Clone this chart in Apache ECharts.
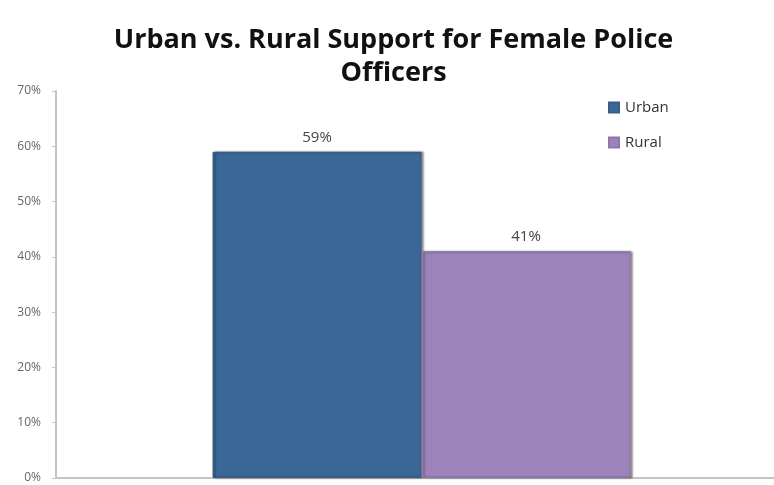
<!DOCTYPE html>
<html>
<head>
<meta charset="utf-8">
<script src="https://cdn.jsdelivr.net/npm/echarts@6/dist/echarts.min.js"></script>
<style>
  html, body { margin: 0; padding: 0; background: #fff; overflow: hidden; }
  #chart { width: 787px; height: 485px; }
</style>
</head>
<body>
<div id="chart"></div>
<script>
// Share of respondents supporting female police officers
const categories = ['Support'];
const urbanValues = [59];
const ruralValues = [41];
const yTicks = [0, 10, 20, 30, 40, 50, 60, 70];

const chart = echarts.init(document.getElementById('chart'));

const barShadow = {
  shadowColor: 'rgba(0,0,0,0.45)',
  shadowBlur: 2,
  shadowOffsetX: 2,
  shadowOffsetY: 0
};

const valueLabel = {
  show: true,
  position: 'top',
  distance: 7,
  formatter: p => p.value + '%',
  fontFamily: 'Open Sans',
  fontSize: 15,
  color: '#444'
};

chart.setOption({
  animation: false,
  backgroundColor: '#ffffff',
  title: {
    text: 'Urban vs. Rural Support for Female Police\nOfficers',
    left: 'center',
    top: 19,
    textStyle: {
      fontFamily: 'Open Sans',
      fontWeight: 'bold',
      fontSize: 27,
      lineHeight: 33,
      color: '#111'
    }
  },
  legend: {
    orient: 'vertical',
    left: 603,
    top: 95,
    itemWidth: 10,
    itemHeight: 10,
    itemGap: 20,
    icon: 'rect',
    textStyle: { fontFamily: 'Open Sans', fontSize: 15, color: '#333', padding: [0, 0, 0, 1] },
    data: ['Urban', 'Rural']
  },
  grid: { left: 56, right: 0, top: 91, bottom: 7, containLabel: false },
  xAxis: {
    type: 'category',
    data: categories,
    axisLine: { lineStyle: { color: '#c4c4c4', width: 2 } },
    axisTick: { show: false },
    axisLabel: { show: false }
  },
  yAxis: {
    type: 'value',
    min: yTicks[0],
    max: yTicks[yTicks.length - 1],
    interval: 10,
    splitLine: { show: false },
    axisLine: { show: true, lineStyle: { color: '#c4c4c4', width: 2 } },
    axisTick: { show: true, length: 4, lineStyle: { color: '#c4c4c4' } },
    axisLabel: {
      formatter: v => v + '%',
      fontFamily: 'Open Sans',
      fontSize: 12,
      color: '#666',
      margin: 15
    }
  },
  series: [
    {
      name: 'Urban',
      type: 'bar',
      data: urbanValues,
      barWidth: 209,
      barGap: '0%',
      itemStyle: Object.assign({ color: '#3b6796', borderColor: '#355d88', borderWidth: 1 }, barShadow),
      label: valueLabel
    },
    {
      name: 'Rural',
      type: 'bar',
      data: ruralValues,
      barWidth: 209,
      barGap: '0%',
      itemStyle: Object.assign({ color: '#9c83ba', borderColor: '#8e76ab', borderWidth: 1 }, barShadow),
      label: valueLabel
    }
  ]
});
</script>
</body>
</html>
